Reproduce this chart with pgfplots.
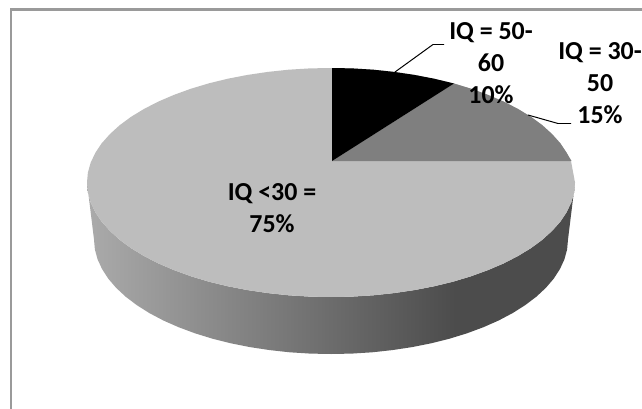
\documentclass[border=0pt]{standalone}
\usepackage{pgfplots}
\pgfplotsset{compat=1.18}
\usepackage{fontspec}
\setmainfont{Carlito}
\definecolor{sliceLow}{HTML}{BDBDBD}
\definecolor{sliceMid}{HTML}{7F7F7F}
\definecolor{frameLine}{HTML}{9A9A9A}
% rim of the pie: lighter on the left, dark plateau on the right
\pgfdeclarehorizontalshading{rimshade}{100bp}{
  color(0bp)=(black!33); color(25bp)=(black!33);
  color(62.5bp)=(black!70); color(100bp)=(black!70)}
\begin{document}
\begin{tikzpicture}
\begin{axis}[
  at={(0,0)}, anchor=south west,
  width=642bp, height=409bp, scale only axis,
  xmin=0, xmax=642, ymin=0, ymax=409, y dir=reverse,
  hide axis, clip=true,
  axis line style={draw=none}
]
% page background
\addplot[draw=none, fill=white] coordinates {(0,0) (642,0) (642,409) (0,409)} --cycle;
% chart frame, top and left edges
\addplot[frameLine, line width=2.2pt] coordinates {(642,9.5) (11,9.5) (11,409)};
% rim: front half of the top face joined to the front half of the base
\addplot[draw=none, shading=rimshade] coordinates {
(575,182.5)(574.1,192.5)(571.3,202.4)(566.7,212.1)(560.3,221.7)(552.1,230.9)(542.3,239.8)(530.9,248.2)(517.9,256.1)(503.5,263.5)(487.8,270.2)(471,276.3)(453,281.7)(434.1,286.3)(414.4,290.1)(394.1,293.1)(373.4,295.3)(352.3,296.6)(331,297)(309.7,296.6)(288.6,295.3)(267.9,293.1)(247.6,290.1)(227.9,286.3)(209,281.7)(191,276.3)(174.2,270.2)(158.5,263.5)(144.1,256.1)(131.1,248.2)(119.7,239.8)(109.9,230.9)(101.7,221.7)(95.3,212.1)(90.7,202.4)(87.9,192.5)(87,182.5)
(94,239.5)(94.9,249.5)(97.6,259.4)(102.1,269.1)(108.3,278.7)(116.2,287.9)(125.8,296.8)(136.9,305.2)(149.4,313.1)(163.4,320.5)(178.6,327.2)(195,333.3)(212.5,338.7)(230.9,343.3)(249.9,347.1)(269.7,350.1)(289.8,352.3)(310.4,353.6)(331,354)(351.6,353.6)(372.2,352.3)(392.3,350.1)(412.1,347.1)(431.1,343.3)(449.5,338.7)(467,333.3)(483.4,327.2)(498.6,320.5)(512.6,313.1)(525.1,305.2)(536.2,296.8)(545.8,287.9)(553.7,278.7)(559.9,269.1)(564.4,259.4)(567.1,249.5)(568,239.5)
} --cycle;
% top face, the IQ <30 share
\addplot[draw=none, fill=sliceLow] coordinates {
(575,182.5)(574.1,192.5)(571.3,202.4)(566.7,212.1)(560.3,221.7)(552.1,230.9)(542.3,239.8)(530.9,248.2)(517.9,256.1)(503.5,263.5)(487.8,270.2)(471,276.3)(453,281.7)(434.1,286.3)(414.4,290.1)(394.1,293.1)(373.4,295.3)(352.3,296.6)(331,297)(309.7,296.6)(288.6,295.3)(267.9,293.1)(247.6,290.1)(227.9,286.3)(209,281.7)(191,276.3)(174.2,270.2)(158.5,263.5)(144.1,256.1)(131.1,248.2)(119.7,239.8)(109.9,230.9)(101.7,221.7)(95.3,212.1)(90.7,202.4)(87.9,192.5)(87,182.5)
(87.9,172.5)(90.7,162.6)(95.3,152.9)(101.7,143.3)(109.9,134.1)(119.7,125.2)(131.1,116.8)(144.1,108.9)(158.5,101.5)(174.2,94.8)(191,88.7)(209,83.3)(227.9,78.7)(247.6,74.9)(267.9,71.9)(288.6,69.7)(309.7,68.4)(331,68)
(352.3,68.4)(373.4,69.7)(394.1,71.9)(414.4,74.9)(434.1,78.7)(453,83.3)(471,88.7)(487.8,94.8)(503.5,101.5)(517.9,108.9)(530.9,116.8)(542.3,125.2)(552.1,134.1)(560.3,143.3)(566.7,152.9)(571.3,162.6)
} --cycle;
% IQ = 30-50 slice
\addplot[draw=none, fill=sliceMid] coordinates {
(332,161)(454,83.5)(471,88.7)(487.8,94.8)(503.5,101.5)(517.9,108.9)(530.9,116.8)(542.3,125.2)(552.1,134.1)(560.3,143.3)(566.7,152.9)(571.5,161)
} --cycle;
% IQ = 50-60 slice
\addplot[draw=none, fill=black] coordinates {
(332,161)(332,68)(352.3,68.4)(373.4,69.7)(394.1,71.9)(414.4,74.9)(434.1,78.7)(454,83.5)
} --cycle;
% leader lines
\addplot[black, line width=1pt] coordinates {(395,72) (433,44.5) (444,44.5)};
\addplot[black, line width=1pt] coordinates {(528,115) (558,123.5) (571,123.5)};
% data labels
\node[font=\fontsize{26}{32}\selectfont\bfseries, align=center] at (axis cs:491,63) {IQ = 50-\\60\\10\%};
\node[font=\fontsize{26}{32}\selectfont\bfseries, align=center] at (axis cs:600,83) {IQ = 30-\\50\\15\%};
\node[font=\fontsize{26}{32}\selectfont\bfseries, align=center] at (axis cs:272,208) {IQ <30 =\\75\%};
\end{axis}
\end{tikzpicture}
\end{document}
